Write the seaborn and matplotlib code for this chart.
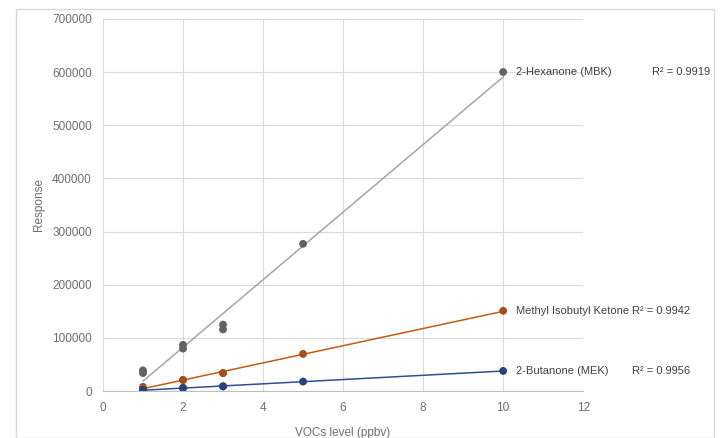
import numpy as np
import pandas as pd
import matplotlib
matplotlib.use('Agg')
import matplotlib.pyplot as plt
import seaborn as sns

# Calibration data
levels = [1, 1, 2, 2, 3, 3, 5, 10]
hexanone = [34000, 39000, 80000, 87000, 116000, 125000, 277000, 600000]
mibk = [5000, 8000, 21000, 21000, 34000, 34000, 70000, 151000]
butanone = [2000, 2000, 6000, 6000, 9000, 9000, 18000, 38000]

names = ['2-Hexanone (MBK)', 'Methyl Isobutyl Ketone', '2-Butanone (MEK)']
r2_labels = ['R² = 0.9919', 'R² = 0.9942', 'R² = 0.9956']
point_colors = ['#636363', '#A5501A', '#264478']
line_colors = ['#A5A5A5', '#C55A11', '#2F4F8F']

x_ticks = [0, 2, 4, 6, 8, 10, 12]
y_ticks = [0, 100000, 200000, 300000, 400000, 500000, 600000, 700000]

df = pd.DataFrame({
    'level': levels * 3,
    'response': hexanone + mibk + butanone,
    'compound': [n for n in names for _ in levels],
})

sns.set_style('white')
plt.rcParams['font.family'] = ['Liberation Sans', 'DejaVu Sans']

fig = plt.figure(figsize=(7.2, 4.38), dpi=100)
ax = fig.add_axes([0.143, 0.107, 0.667, 0.85])

# Light border around the whole chart
fig.patches.append(plt.Rectangle((0.022, 0.0), 0.97, 0.98, transform=fig.transFigure,
                                 fill=False, edgecolor='#D9D9D9', linewidth=1))

# Linear trendlines
for name, lc in zip(names, line_colors):
    sub = df[df['compound'] == name]
    slope, icpt = np.polyfit(sub['level'], sub['response'], 1)
    xs = np.array([sub['level'].min(), sub['level'].max()])
    ax.plot(xs, slope * xs + icpt, color=lc, linewidth=1.1, zorder=2)

sns.scatterplot(data=df, x='level', y='response', hue='compound', palette=point_colors,
                s=32, edgecolor='none', ax=ax, legend=False, zorder=3)

# Data labels at the last point of each series
label_y = [600000, 151000, 38000]
r2_x = [13.72, 13.22, 13.22]
for name, ly, r2, rx in zip(names, label_y, r2_labels, r2_x):
    ax.text(10.33, ly, name, fontsize=8, color='#404040', va='center')
    ax.text(rx, ly, r2, fontsize=8, color='#404040', va='center')

ax.set_xlim(0, 12)
ax.set_ylim(0, 700000)
ax.set_xticks(x_ticks)
ax.set_yticks(y_ticks)
ax.set_xticklabels([str(t) for t in x_ticks])
ax.set_yticklabels([str(t) for t in y_ticks])
ax.grid(True, color='#D9D9D9', linewidth=0.8)
ax.set_axisbelow(True)
for side in ['top', 'right', 'left']:
    ax.spines[side].set_visible(False)
ax.spines['bottom'].set_color('#BFBFBF')
ax.tick_params(axis='both', length=0, labelsize=8.5, colors='#6E6E6E', pad=8)
ax.set_xlabel('VOCs level (ppbv)', fontsize=8.5, color='#6E6E6E', labelpad=9)
ax.set_ylabel('Response', fontsize=8.5, color='#6E6E6E', labelpad=5)

fig.savefig('out.png', dpi=100)
